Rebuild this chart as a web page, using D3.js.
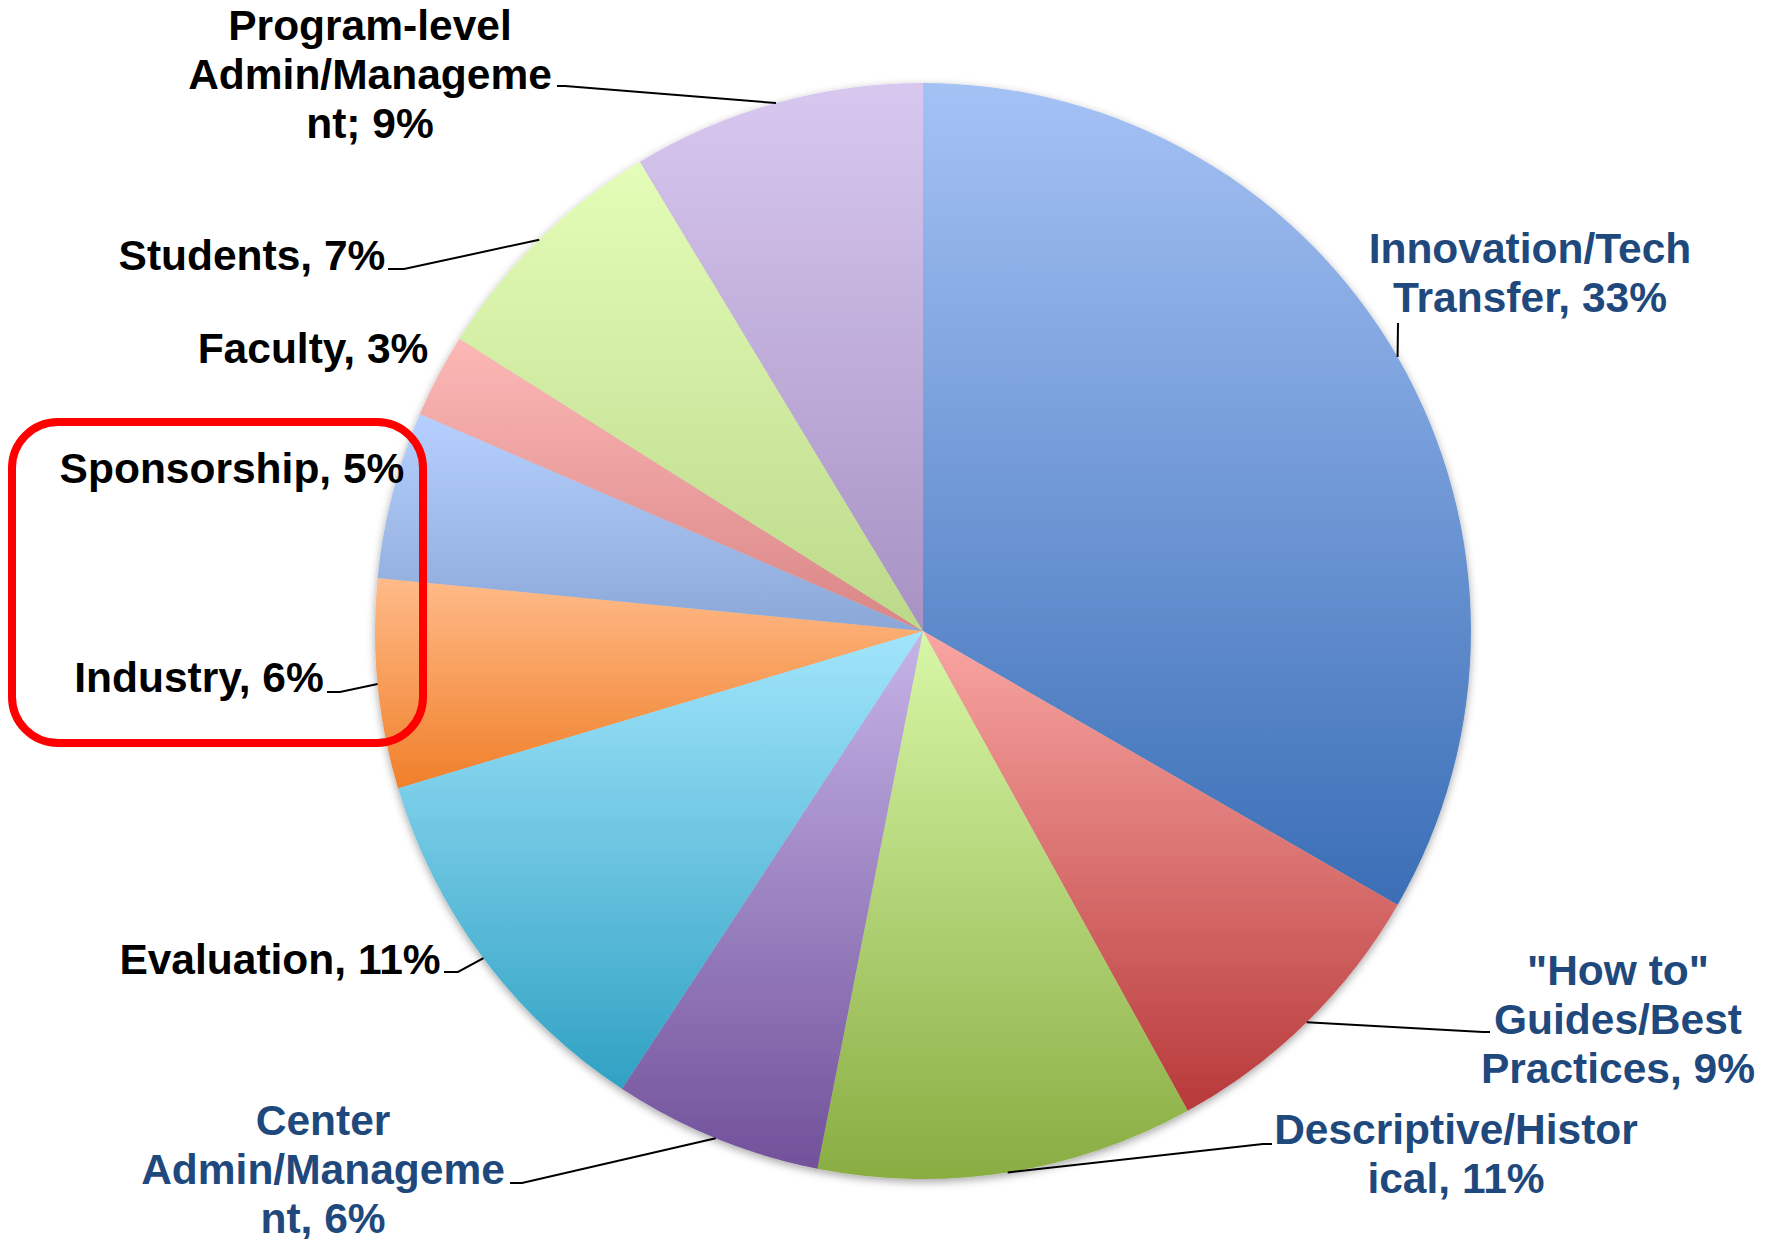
<!DOCTYPE html>
<html>
<head>
<meta charset="utf-8">
<script src="https://cdn.jsdelivr.net/npm/d3@7"></script>
<style>
  body { margin: 0; background: #fff; }
  svg { display: block; }
  .lbl { font-family: "Liberation Sans", Arial, sans-serif; font-weight: bold; font-size: 42.5px; }
</style>
</head>
<body>
<div id="chart"></div>
<script>
// Data (clockwise from 12 o'clock)
var categories = ["Innovation/Tech Transfer", "\"How to\" Guides/Best Practices", "Descriptive/Historical",
    "Center Admin/Management", "Evaluation", "Industry", "Sponsorship", "Faculty", "Students",
    "Program-level Admin/Management"];
var counts = [27, 7, 9, 5, 9, 5, 4, 2, 6, 7];
var percentLabels = ["33%", "9%", "11%", "6%", "11%", "6%", "5%", "3%", "7%", "9%"];

// label text lines as they wrap in the original
var labelLines = [
    ["Innovation/Tech", "Transfer, 33%"],
    ["\"How to\"", "Guides/Best", "Practices, 9%"],
    ["Descriptive/Histor", "ical, 11%"],
    ["Center", "Admin/Manageme", "nt, 6%"],
    ["Evaluation, 11%"],
    ["Industry, 6%"],
    ["Sponsorship, 5%"],
    ["Faculty, 3%"],
    ["Students, 7%"],
    ["Program-level", "Admin/Manageme", "nt; 9%"]
];

// slice gradient colours (top, bottom)
var topColors = ["#a5c2f5", "#f9a6a2", "#d8f7a7", "#c6b4e8", "#a2e5fc", "#ffbb89", "#b6d1ff", "#fcb8b6", "#e4fdb8", "#d8c8f0"];
var bottomColors = ["#3a6eb6", "#b8393a", "#89ad42", "#71519a", "#30a1c3", "#f07f2a", "#8ba7d7", "#d98585", "#bcd98a", "#a792c3"];
var textColors = ["#1f497d", "#1f497d", "#1f497d", "#1f497d", "#000", "#000", "#000", "#000", "#000", "#000"];

// label layout: anchor x, first baseline y, and elbow of leader line (null = no leader)
var labelX = [1530, 1618, 1456, 323, 280, 199, 232, 313, 252, 370];
var labelY = [263, 985, 1144, 1135, 974, 692, 483, 363, 270, 40];
var leaderEnds = [
    [[1398, 323]],
    [[1483, 1032], [1490, 1032]],
    [[1263, 1144], [1272, 1144]],
    [[522, 1183], [510, 1183]],
    [[458, 972], [444, 972]],
    [[340, 692], [327, 692]],
    null,
    null,
    [[404, 269], [388, 269]],
    [[565, 86], [557, 86]]
];

var width = 1773, height = 1239;
var cx = 923, cy = 631, radius = 548;
var lineH = 49;

var svg = d3.select("#chart")
    .append("svg")
    .attr("width", width)
    .attr("height", height);

var defs = svg.append("defs");

// soft shadow around the pie
var shadow = defs.append("filter")
    .attr("id", "pieShadow")
    .attr("x", "-10%").attr("y", "-10%")
    .attr("width", "120%").attr("height", "120%");
shadow.append("feDropShadow")
    .attr("dx", 0).attr("dy", 3)
    .attr("stdDeviation", 4)
    .attr("flood-color", "#000")
    .attr("flood-opacity", 0.35);

categories.forEach(function(c, i) {
    var g = defs.append("linearGradient")
        .attr("id", "grad" + i)
        .attr("x1", 0).attr("y1", 0)
        .attr("x2", 0).attr("y2", 1);
    g.append("stop").attr("offset", "0%").attr("stop-color", topColors[i]);
    g.append("stop").attr("offset", "100%").attr("stop-color", bottomColors[i]);
});

var pie = d3.pie()
    .sort(null)
    .value(function(d) { return d; });

var arc = d3.arc()
    .innerRadius(0)
    .outerRadius(radius);

var arcs = pie(counts);

var pieG = svg.append("g")
    .attr("transform", "translate(" + cx + "," + cy + ")")
    .attr("filter", "url(#pieShadow)");

pieG.selectAll("path")
    .data(arcs)
    .enter().append("path")
    .attr("d", arc)
    .attr("fill", function(d, i) { return "url(#grad" + i + ")"; });

// leader lines from the mid-angle of each slice edge
var line = d3.line();
svg.append("g")
    .selectAll("path")
    .data(arcs.filter(function(d, i) { return leaderEnds[i]; }))
    .enter().append("path")
    .attr("d", function(d) {
        var a = (d.startAngle + d.endAngle) / 2;
        var start = [cx + radius * Math.sin(a), cy - radius * Math.cos(a)];
        return line([start].concat(leaderEnds[d.index]));
    })
    .attr("fill", "none")
    .attr("stroke", "#000")
    .attr("stroke-width", 2);

// data labels
var labels = svg.append("g")
    .selectAll("text")
    .data(labelLines)
    .enter().append("text")
    .attr("class", "lbl")
    .attr("text-anchor", "middle")
    .attr("fill", function(d, i) { return textColors[i]; });

labels.each(function(lines, i) {
    var t = d3.select(this);
    lines.forEach(function(s, k) {
        t.append("tspan")
            .attr("x", labelX[i])
            .attr("y", labelY[i] + k * lineH)
            .text(s);
    });
});

// red highlight box around Sponsorship / Industry
svg.append("rect")
    .attr("x", 12).attr("y", 422)
    .attr("width", 411).attr("height", 321)
    .attr("rx", 46).attr("ry", 46)
    .attr("fill", "none")
    .attr("stroke", "#ff0000")
    .attr("stroke-width", 8);
</script>
</body>
</html>
